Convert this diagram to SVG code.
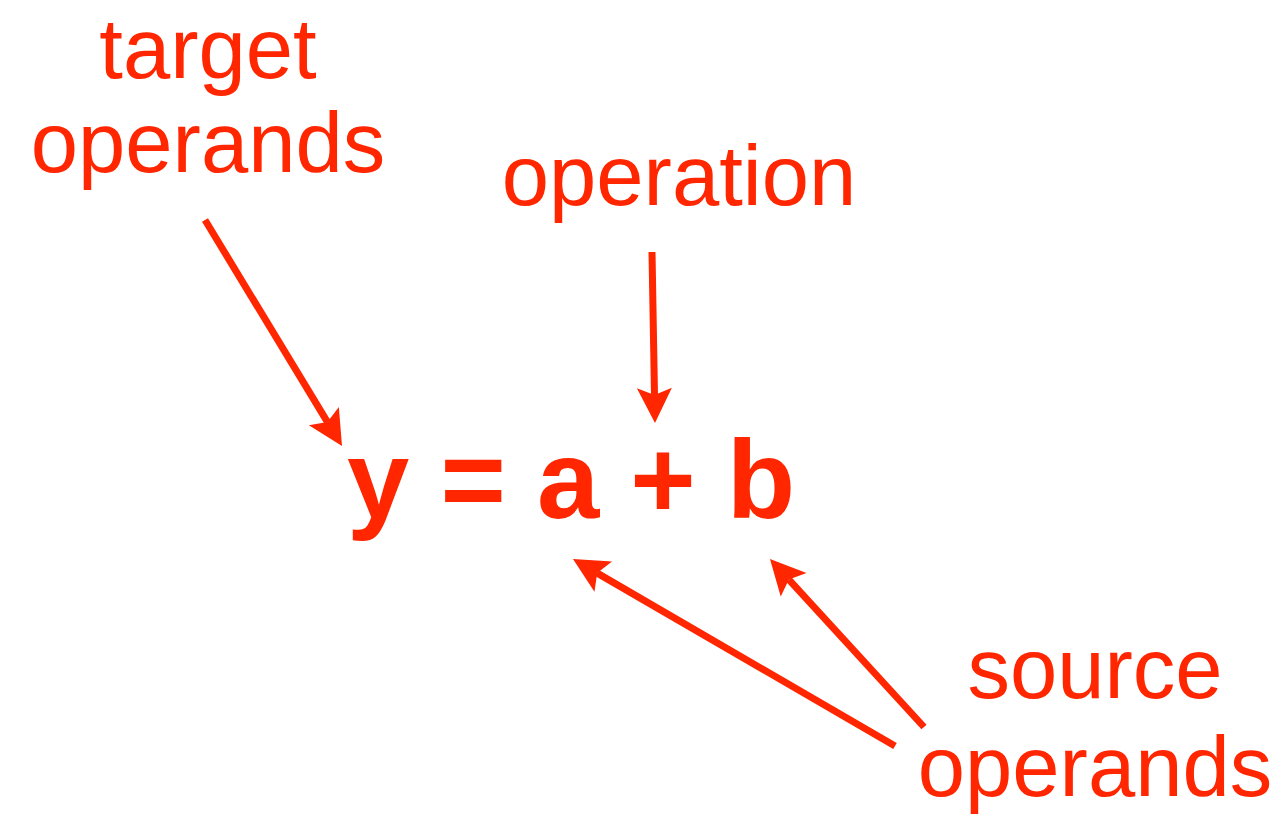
<svg xmlns="http://www.w3.org/2000/svg" width="1287" height="814" viewBox="0 0 1287 814">
<style>
.lbl{font-family:"Liberation Sans",Arial,Helvetica,sans-serif;font-size:85px;fill:#FF2600;text-anchor:middle}
.eq{font-family:"Liberation Sans",Arial,Helvetica,sans-serif;font-size:112px;font-weight:bold;fill:#FF2600}
.conn{stroke:#FF2600;stroke-width:7;fill:none;marker-end:url(#ah)}
</style>
<defs>
<marker id="ah" markerUnits="userSpaceOnUse" orient="auto" refX="0" refY="0" markerWidth="80" markerHeight="80" viewBox="-40 -40 80 80" overflow="visible">
<path d="M0,0 L-7,-17.5 L28,0 L-7,17.5 Z" fill="#FF2600"/>
</marker>
</defs>
<rect width="1287" height="814" fill="#ffffff"/>
<g id="target">
<text class="lbl" x="208" y="77.5">target</text>
<text class="lbl" x="208" y="172">operands</text>
</g>
<g id="operation">
<text class="lbl" x="679" y="205">operation</text>
</g>
<g id="source">
<text class="lbl" x="1095" y="698">source</text>
<text class="lbl" x="1095" y="796">operands</text>
</g>
<g id="equation">
<text class="eq" x="347" y="518">y = a + b</text>
</g>
<g id="connectors">
<line class="conn" x1="205" y1="220" x2="327.5" y2="422.1"/>
<line class="conn" x1="652" y1="252" x2="654.5" y2="395"/>
<line class="conn" x1="895" y1="746" x2="597.2" y2="573.1"/>
<line class="conn" x1="924" y1="727" x2="788.9" y2="579.6"/>
</g>
</svg>
